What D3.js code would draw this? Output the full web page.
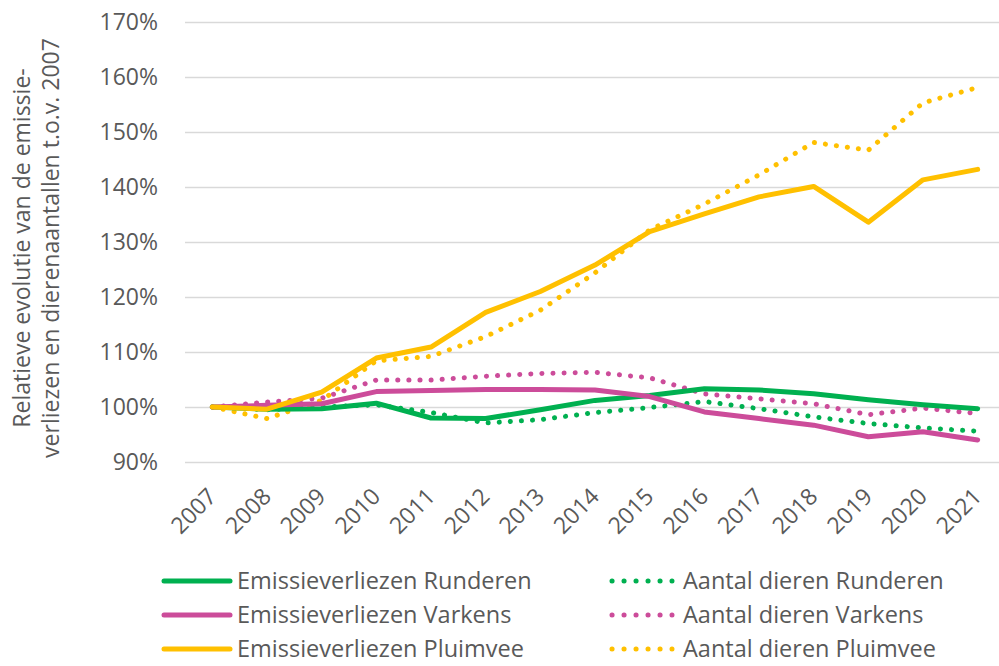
<!DOCTYPE html>
<html>
<head>
<meta charset="utf-8">
<script src="https://cdn.jsdelivr.net/npm/d3@7"></script>
<style>
  body { margin: 0; background: #fff; }
  svg text { font-family: "Open Sans", sans-serif; fill: #595959; }
</style>
</head>
<body>
<div class="svg-container"></div>
<script>
const years = ['2007', '2008', '2009', '2010', '2011', '2012', '2013', '2014', '2015', '2016', '2017', '2018', '2019', '2020', '2021']
const yTicks = [90, 100, 110, 120, 130, 140, 150, 160, 170]

const emRunderen = [100, 99.6, 99.7, 100.7, 98.0, 97.9, 99.5, 101.2, 102.1, 103.3, 103.1, 102.4, 101.3, 100.4, 99.7]
const emVarkens = [100, 100.3, 100.6, 102.8, 103.0, 103.2, 103.2, 103.1, 101.9, 99.1, 97.9, 96.7, 94.6, 95.5, 94.0]
const emPluimvee = [100, 99.6, 102.7, 108.9, 110.9, 117.2, 121.0, 125.8, 131.9, 135.1, 138.2, 140.1, 133.6, 141.3, 143.2]
const anRunderen = [100, 99.5, 100.0, 100.4, 99.0, 97.1, 97.7, 99.0, 99.9, 101.0, 99.7, 98.2, 97.0, 96.2, 95.6]
const anVarkens = [100, 100.9, 101.6, 104.9, 104.9, 105.6, 106.1, 106.3, 105.3, 102.4, 101.5, 100.6, 98.6, 99.8, 98.8]
const anPluimvee = [100, 97.9, 101.2, 108.4, 109.2, 112.8, 117.6, 124.4, 132.2, 136.9, 142.2, 148.1, 146.7, 155.3, 158.1]

const series = [
  { name: 'Emissieverliezen Runderen', values: emRunderen, color: '#00B050', dotted: false },
  { name: 'Emissieverliezen Varkens', values: emVarkens, color: '#CC4C9A', dotted: false },
  { name: 'Emissieverliezen Pluimvee', values: emPluimvee, color: '#FFC000', dotted: false },
  { name: 'Aantal dieren Runderen', values: anRunderen, color: '#00B050', dotted: true },
  { name: 'Aantal dieren Varkens', values: anVarkens, color: '#CC4C9A', dotted: true },
  { name: 'Aantal dieren Pluimvee', values: anPluimvee, color: '#FFC000', dotted: true }
]

const width = 999
const height = 666
const plotLeft = 185
const plotRight = 1005
const plotTop = 22
const plotBottom = 462

const svg = d3
  .select('.svg-container')
  .append('svg')
  .attr('width', width)
  .attr('height', height)

const xScale = d3.scalePoint().domain(years).range([plotLeft, plotRight]).padding(0.5)
const yScale = d3.scaleLinear().domain([90, 170]).range([plotBottom, plotTop])

// gridlines + y labels
const yAxis = d3
  .axisLeft(yScale)
  .tickValues(yTicks)
  .tickSize(-(plotRight - plotLeft))
  .tickPadding(27)
  .tickFormat((d) => d + '%')

const gy = svg.append('g').attr('transform', 'translate(' + plotLeft + ',0)').call(yAxis)
gy.select('.domain').remove()
gy.selectAll('line').attr('stroke', '#D9D9D9').attr('stroke-width', 1.5)
gy.selectAll('text').style('font-size', '23px').attr('fill', '#595959')

// x labels
const xAxis = d3.axisBottom(xScale).tickSize(0).tickPadding(0)
const gx = svg.append('g').attr('transform', 'translate(0,' + plotBottom + ')').call(xAxis)
gx.select('.domain').remove()
gx.selectAll('text')
  .style('font-size', '23px')
  .attr('fill', '#595959')
  .attr('text-anchor', 'end')
  .attr('dy', null)
  .attr('y', 0)
  .attr('transform', 'translate(5,36) rotate(-45)')

// y title
const title = svg
  .append('text')
  .attr('transform', 'translate(0,' + 248 + ') rotate(-90)')
  .attr('text-anchor', 'middle')
  .style('font-size', '23px')
title.append('tspan').attr('x', 0).attr('y', 30).text('Relatieve evolutie van de emissie-')
title.append('tspan').attr('x', 0).attr('y', 59).text('verliezen en dierenaantallen t.o.v. 2007')

// lines
const line = d3
  .line()
  .x((d, i) => xScale(years[i]))
  .y((d) => yScale(d))

const drawOrder = [3, 4, 5, 0, 1, 2]
svg
  .append('g')
  .selectAll('path')
  .data(drawOrder.map((i) => series[i]))
  .enter()
  .append('path')
  .attr('d', (d) => line(d.values))
  .attr('fill', 'none')
  .attr('stroke', (d) => d.color)
  .attr('stroke-width', 5)
  .attr('stroke-linecap', 'round')
  .attr('stroke-linejoin', 'round')
  .attr('stroke-dasharray', (d) => (d.dotted ? '0.1 11' : null))

// legend
const legend = svg
  .append('g')
  .selectAll('g')
  .data(series)
  .enter()
  .append('g')
  .attr('transform', (d, i) => {
    const col = i < 3 ? 0 : 1
    const row = i % 3
    return 'translate(' + (col ? 612 : 164) + ',' + (581 + row * 34) + ')'
  })

legend
  .append('line')
  .attr('x1', 0)
  .attr('x2', (d) => (d.dotted ? 60 : 66))
  .attr('stroke', (d) => d.color)
  .attr('stroke-width', 5)
  .attr('stroke-linecap', 'round')
  .attr('stroke-dasharray', (d) => (d.dotted ? '0.1 11.9' : null))

legend
  .append('text')
  .attr('x', (d) => (d.dotted ? 71 : 73))
  .attr('dy', '0.35em')
  .style('font-size', '23.5px')
  .text((d) => d.name)
</script>
</body>
</html>
